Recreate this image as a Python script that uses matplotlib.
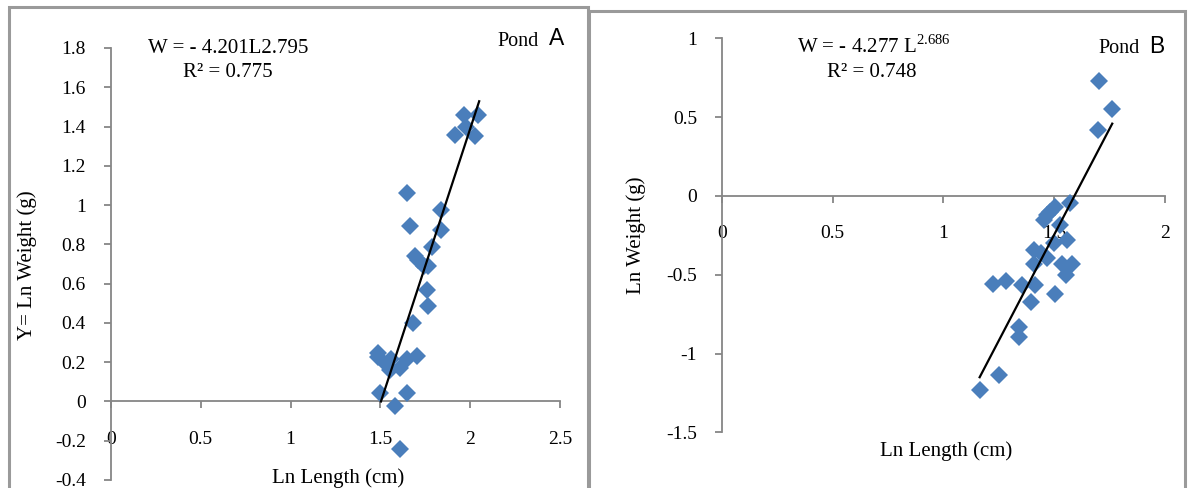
import matplotlib
matplotlib.use("Agg")
import matplotlib.pyplot as plt
from matplotlib.patches import Rectangle
import numpy as np

# ---------------- data ----------------
# Pond A: Ln length (cm) vs Ln weight (g)
pondA_ln_length = [1.498, 1.646, 1.581, 1.609, 1.488, 1.485, 1.535, 1.553, 1.560,
                   1.609, 1.646, 1.702, 1.683, 1.767, 1.758, 1.767, 1.693, 1.710,
                   1.740, 1.786, 1.836, 1.836, 1.666, 1.646, 1.913, 2.024, 1.964,
                   2.046, 1.975]
pondA_ln_weight = [0.044, 0.041, -0.024, -0.244, 0.248, 0.225, 0.188, 0.160, 0.215,
                   0.170, 0.215, 0.231, 0.397, 0.485, 0.570, 0.689, 0.740, 0.720,
                   0.690, 0.787, 0.872, 0.974, 0.892, 1.062, 1.359, 1.350, 1.460,
                   1.460, 1.400]
pondA_intercept, pondA_slope = -4.201, 2.795
pondA_fit_range = [1.503, 2.050]

# Pond B
pondB_ln_length = [1.703, 1.763, 1.700, 1.571, 1.504, 1.469, 1.455, 1.480, 1.529,
                   1.560, 1.500, 1.409, 1.439, 1.469, 1.409, 1.537, 1.582, 1.552,
                   1.225, 1.281, 1.356, 1.416, 1.394, 1.504, 1.341, 1.341, 1.253,
                   1.164]
pondB_ln_weight = [0.730, 0.550, 0.421, -0.042, -0.070, -0.122, -0.150, -0.100, -0.186,
                   -0.277, -0.300, -0.345, -0.360, -0.397, -0.430, -0.430, -0.430, -0.503,
                   -0.560, -0.539, -0.567, -0.567, -0.672, -0.620, -0.835, -0.894, -1.138,
                   -1.233]
pondB_intercept, pondB_slope = -4.277, 2.686
pondB_fit_range = [1.164, 1.763]

pondA_xticks = [0, 0.5, 1, 1.5, 2, 2.5]
pondA_yticks = [-0.4, -0.2, 0, 0.2, 0.4, 0.6, 0.8, 1, 1.2, 1.4, 1.6, 1.8]
pondB_xticks = [0, 0.5, 1, 1.5, 2]
pondB_yticks = [-1.5, -1, -0.5, 0, 0.5, 1]

# ---------------- style ----------------
W, H = 1192, 488
SERIF = "Liberation Serif"
SANS = "Liberation Sans"
BLUE = "#4A7EBB"
AXCOL = "#868686"
TICK_FS = 14
LABEL_FS = 15
EQ_FS = 15

fig = plt.figure(figsize=(W / 100, H / 100), dpi=100)
fig.patch.set_facecolor("white")


def px_axes(x0, x1, ytop, ybot):
    return fig.add_axes([x0 / W, 1 - ybot / H, (x1 - x0) / W, (ybot - ytop) / H])


def fmt(v):
    return f"{v:g}"


def style_axes(ax, xticks, yticks, xlim, ylim):
    ax.set_xlim(*xlim)
    ax.set_ylim(*ylim)
    ax.set_facecolor("none")
    for s in ("top", "right"):
        ax.spines[s].set_visible(False)
    ax.spines["bottom"].set_position(("data", 0))
    for s in ("left", "bottom"):
        ax.spines[s].set_color(AXCOL)
        ax.spines[s].set_linewidth(1.3)
    ax.set_xticks(xticks)
    ax.set_yticks(yticks)
    ax.set_xticklabels([fmt(v) for v in xticks], family=SERIF, fontsize=TICK_FS)
    ax.set_yticklabels([fmt(v) for v in yticks], family=SERIF, fontsize=TICK_FS)
    ax.tick_params(axis="both", direction="out", length=5, width=1.3, color=AXCOL,
                   labelcolor="black")
    ax.tick_params(axis="x", pad=16)
    ax.tick_params(axis="y", pad=13)


def diamonds(ax, x, y):
    ax.plot(x, y, linestyle="none", marker="D", markersize=9.6, color=BLUE,
            markeredgewidth=0, zorder=3, clip_on=False)


def fit_line(ax, a, b, rng):
    xs = np.array(rng)
    ax.plot(xs, a + b * xs, color="black", linewidth=1.6, zorder=4, clip_on=False)


# ---------------- Pond A ----------------
axA = px_axes(111, 560, 48, 480)
style_axes(axA, pondA_xticks, pondA_yticks, (0, 2.5), (-0.4, 1.8))
diamonds(axA, pondA_ln_length, pondA_ln_weight)
fit_line(axA, pondA_intercept, pondA_slope, pondA_fit_range)
fig.text(27 / W, 1 - 265 / H, "Y= Ln Weight (g)", rotation=90, ha="center", va="center",
         family=SERIF, fontsize=LABEL_FS)
fig.text(338 / W, 1 - 478 / H, "Ln Length (cm)", ha="center", va="center",
         family=SERIF, fontsize=LABEL_FS)
fig.text(228 / W, 1 - 53 / H, "W = - 4.201L2.795", ha="center", va="baseline",
         family=SERIF, fontsize=EQ_FS)
fig.text(228 / W, 1 - 77 / H, "R² = 0.775", ha="center", va="baseline",
         family=SERIF, fontsize=EQ_FS)
fig.text(497 / W, 1 - 46 / H, "Pond", ha="left", va="baseline", family=SERIF, fontsize=14.5)
fig.text(549 / W, 1 - 45 / H, "A", ha="left", va="baseline", family=SANS, fontsize=16.5)

# ---------------- Pond B ----------------
axB = px_axes(722, 1164.7, 38.3, 432.3)
style_axes(axB, pondB_xticks, pondB_yticks, (0, 2), (-1.5, 1))
diamonds(axB, pondB_ln_length, pondB_ln_weight)
fit_line(axB, pondB_intercept, pondB_slope, pondB_fit_range)
fig.text(636 / W, 1 - 235 / H, "Ln Weight (g)", rotation=90, ha="center", va="center",
         family=SERIF, fontsize=LABEL_FS)
fig.text(946 / W, 1 - 450.7 / H, "Ln Length (cm)", ha="center", va="center",
         family=SERIF, fontsize=LABEL_FS)
fig.text(797 / W, 1 - 52.7 / H, r"W = - 4.277 L$^{\mathregular{2.686}}$", ha="left",
         va="baseline", family=SERIF, fontsize=EQ_FS)
fig.text(871.5 / W, 1 - 76.7 / H, "R² = 0.748", ha="center", va="baseline",
         family=SERIF, fontsize=EQ_FS)
fig.text(1098 / W, 1 - 52.7 / H, "Pond", ha="left", va="baseline", family=SERIF, fontsize=14.5)
fig.text(1149 / W, 1 - 53 / H, "B", ha="left", va="baseline", family=SANS, fontsize=16.5)

# ---------------- panel frames ----------------
FRAME = "#9A9A9A"
fig.patches.append(Rectangle((9 / W, -0.1), (588 - 9) / W, 1.1 - 7.5 / H,
                             transform=fig.transFigure, fill=False, edgecolor=FRAME,
                             linewidth=2.2))
fig.patches.append(Rectangle((589 / W, -0.1), 0.5, 1.1 - 10.5 / H,
                             transform=fig.transFigure, fill=False, edgecolor=FRAME,
                             linewidth=2.2))

fig.savefig("out.png", dpi=100)
